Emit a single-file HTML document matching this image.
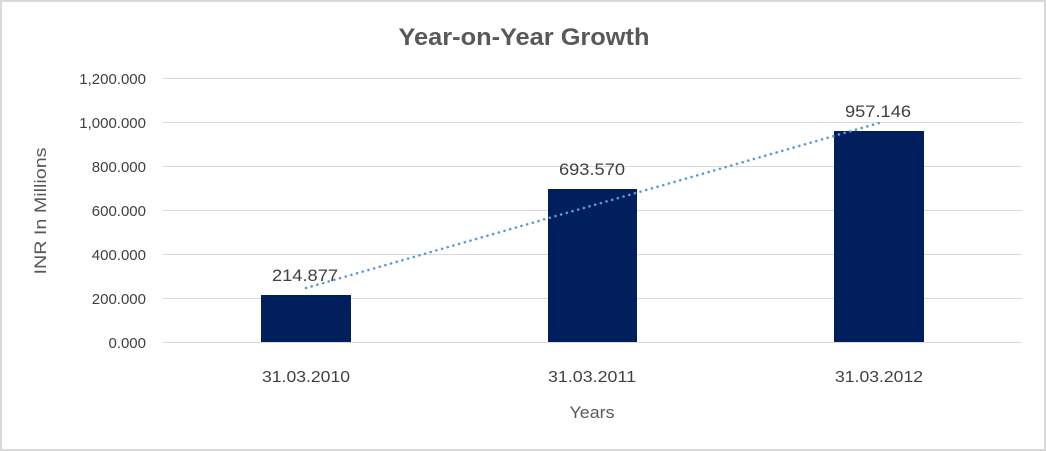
<!DOCTYPE html>
<html><head><style>
html,body{margin:0;padding:0;background:#fff}
svg{display:block}
text{font-family:"Liberation Sans","DejaVu Sans",sans-serif;fill:#404040}
</style></head><body>
<svg width="1046" height="451" viewBox="0 0 1046 451">
<rect x="1" y="1" width="1044" height="449" fill="#fff" stroke="#d9d9d9" stroke-width="2"/>
<text x="524" y="45" text-anchor="middle" font-size="24" font-weight="bold" textLength="251" lengthAdjust="spacingAndGlyphs" style="fill:#595959">Year-on-Year Growth</text>
<g stroke="#d9d9d9" stroke-width="1">
<line x1="163" x2="1022" y1="78.5" y2="78.5"/>
<line x1="163" x2="1022" y1="122.5" y2="122.5"/>
<line x1="163" x2="1022" y1="166.5" y2="166.5"/>
<line x1="163" x2="1022" y1="210.5" y2="210.5"/>
<line x1="163" x2="1022" y1="254.5" y2="254.5"/>
<line x1="163" x2="1022" y1="298.5" y2="298.5"/>
<line x1="163" x2="1022" y1="342.5" y2="342.5"/>
</g>
<g font-size="15" text-anchor="end">
<text x="146" y="84">1,200.000</text>
<text x="146" y="128">1,000.000</text>
<text x="146" y="172">800.000</text>
<text x="146" y="216">600.000</text>
<text x="146" y="260">400.000</text>
<text x="146" y="304">200.000</text>
<text x="146" y="348">0.000</text>
</g>
<text transform="translate(46,211) rotate(-90)" font-size="17" text-anchor="middle" textLength="127" lengthAdjust="spacingAndGlyphs" style="fill:#595959">INR In Millions</text>
<g fill="#001f5c">
<rect x="261" y="295" width="90" height="47"/>
<rect x="548" y="189" width="89" height="153"/>
<rect x="834" y="131" width="90" height="211"/>
</g>
<line x1="306" y1="288" x2="879" y2="123" stroke="#5b9bd5" stroke-width="2.6" stroke-dasharray="0.1 5.8" stroke-linecap="round"/>
<g font-size="17" text-anchor="middle">
<text x="305" y="281" textLength="66" lengthAdjust="spacingAndGlyphs">214.877</text>
<text x="592" y="175" textLength="66" lengthAdjust="spacingAndGlyphs">693.570</text>
<text x="878" y="117" textLength="66" lengthAdjust="spacingAndGlyphs">957.146</text>
</g>
<g font-size="16" text-anchor="middle">
<text x="306" y="382" textLength="88" lengthAdjust="spacingAndGlyphs">31.03.2010</text>
<text x="592" y="382" textLength="88" lengthAdjust="spacingAndGlyphs">31.03.2011</text>
<text x="879" y="382" textLength="88" lengthAdjust="spacingAndGlyphs">31.03.2012</text>
</g>
<text x="592" y="418" font-size="17" text-anchor="middle" textLength="45" lengthAdjust="spacingAndGlyphs" style="fill:#595959">Years</text>
</svg>
</body></html>
